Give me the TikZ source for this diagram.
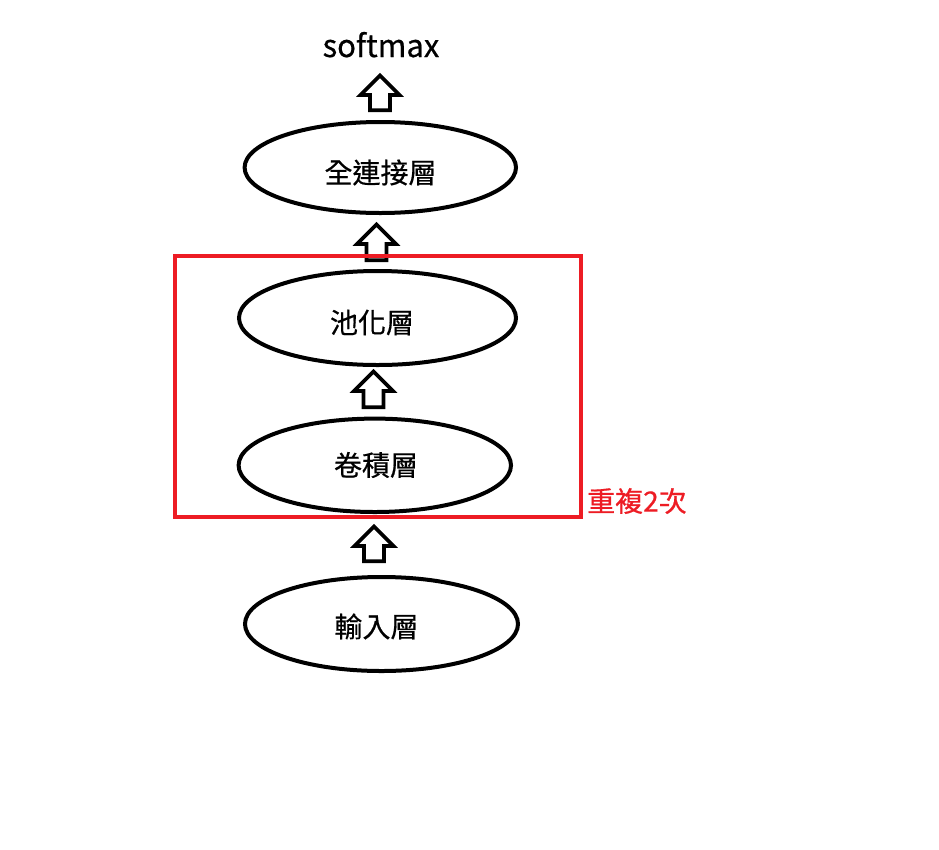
\documentclass[tikz,border=0pt]{standalone}
\usepackage{fontspec}
\setmainfont{Noto Sans CJK TC}
\newfontfamily\lblfont{Noto Sans CJK TC}[FakeBold=0.6]
\usetikzlibrary{shapes.geometric}
\definecolor{boxred}{RGB}{237,28,36}
\newcommand\blkarr[4]{% name, x, tip y, bottom y
  \coordinate (#1) at (#2,#3);
  \draw[arrline] (#2-10,#4) -- (#2-10,#3+19.5) -- (#2-19.5,#3+19.5) -- (#1)
    -- (#2+19.5,#3+19.5) -- (#2+10,#3+19.5) -- (#2+10,#4) -- cycle;}
\begin{document}
\begin{tikzpicture}[x=1pt,y=-1pt,
  layer/.style={ellipse, draw=black, line width=4pt, inner sep=0pt},
  arrline/.style={draw=black, line width=3.6pt, fill=white, line join=miter},
  lbl/.style={inner sep=0pt, font=\lblfont\fontsize{28}{32}\selectfont}]
\useasboundingbox (0,0) rectangle (939,849);
\node[lbl, anchor=base, font=\lblfont\fontsize{31}{34}\selectfont] (soft) at (381,57) {softmax};
\node[layer, minimum width=271.4pt, minimum height=91pt] (fc) at (380.3,167.5) {};
\node[layer, minimum width=277pt, minimum height=94pt] (pool) at (377.5,318) {};
\node[layer, minimum width=272.4pt, minimum height=93.4pt] (conv) at (374.8,465.3) {};
\node[layer, minimum width=273pt, minimum height=94pt] (inp) at (381.5,624) {};
\node[lbl] (fct) at (380.5,172.5) {全連接層};
\node[lbl] (poolt) at (372,322.5) {池化層};
\node[lbl] (convt) at (376,465) {卷積層};
\node[lbl] (inpt) at (376.5,626.5) {輸入層};
\blkarr{a1}{380}{75.5}{110.2}
\blkarr{a2}{376.5}{224.5}{260.2}
\blkarr{a3}{373.5}{371.5}{407.2}
\blkarr{a4}{374}{526.5}{561.2}
\node[draw=boxred, line width=4pt, inner sep=0pt, minimum width=406pt,
  minimum height=261.5pt] (rep) at (377.5,386.25) {};
\node[lbl, text=boxred, anchor=west] (reptxt) at (587,501) {重複2次};
\end{tikzpicture}
\end{document}
